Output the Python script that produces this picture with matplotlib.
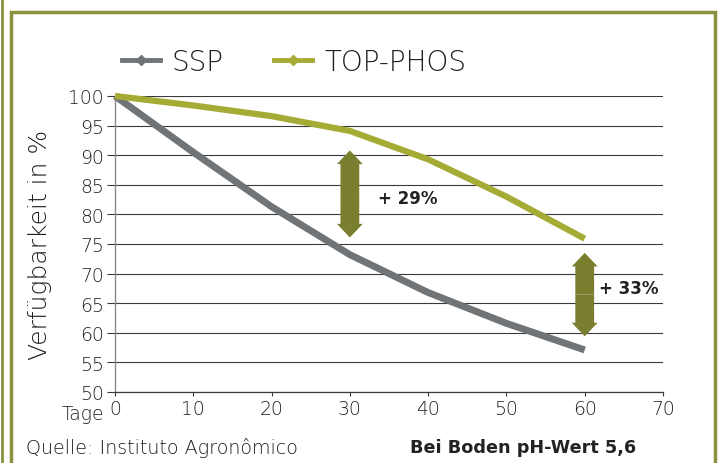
import matplotlib.pyplot as plt
from matplotlib.lines import Line2D
from matplotlib.patches import Rectangle, FancyArrow

days = [0, 10, 20, 30, 40, 50, 60]
ssp = [100, 90.5, 81.3, 73.2, 66.8, 61.6, 57.1]
top_phos = [100, 98.4, 96.6, 94.1, 89.3, 83.0, 75.9]
gain_labels = ['+ 29%', '+ 33%']
gain_days = [30, 60]

GRAY = '#717477'
LIME = '#a5ab35'
OLIVE = '#7a7f2f'
FRAME = '#8a9141'
TXT = '#1e1e1e'

plt.rcParams['font.family'] = ['DejaVu Sans']
plt.rcParams['font.weight'] = 'light'
plt.rcParams['axes.labelweight'] = 'light'

fig = plt.figure(figsize=(7.19, 4.64), dpi=100)
ax = fig.add_axes([115 / 719, 1 - 393 / 464, 548 / 719, 296 / 464])

# frame round the chart
fig.patches.append(Rectangle((11 / 719, -0.1), 704 / 719, 1.1 - 13 / 464,
                             transform=fig.transFigure, fill=False,
                             edgecolor=FRAME, lw=2.5))
fig.add_artist(Line2D([1.5 / 719, 1.5 / 719], [0, 1], color=FRAME, lw=2,
                      transform=fig.transFigure))

ax.plot(days, ssp, color=GRAY, lw=5, solid_capstyle='butt', clip_on=False, zorder=3)
ax.plot(days, top_phos, color=LIME, lw=4.5, solid_capstyle='butt', clip_on=False, zorder=3)

# double arrows between the two series
for d, lab in zip(gain_days, gain_labels):
    i = days.index(d)
    lo = ssp[i] + (2.9 if d == 30 else 2.3)
    hi = top_phos[i] - (3.3 if d == 30 else 2.4)
    mid = (lo + hi) / 2
    for end in (hi, lo):
        ax.add_patch(FancyArrow(d, mid, 0, end - mid, width=2.4, head_width=3.3,
                                head_length=2.3, length_includes_head=True,
                                color=OLIVE, lw=0, zorder=4))
    ax.text(d + (3.6 if d == 30 else 1.8), mid + (-0.6 if d == 30 else 1.2), lab,
            fontsize=12, fontweight='bold', color='#222222', va='center', ha='left')

ax.set_xlim(0, 70)
ax.set_ylim(50, 100)
ax.set_xticks(range(0, 71, 10))
ax.set_yticks(range(50, 101, 5))
ax.yaxis.grid(True, color='#3a3a3a', lw=0.8)
ax.set_axisbelow(True)
for s in ['top', 'right']:
    ax.spines[s].set_visible(False)
ax.spines['left'].set_color('#8a8a8a')
ax.spines['bottom'].set_color('#3a3a3a')
ax.spines['left'].set_linewidth(1)
ax.spines['bottom'].set_linewidth(0.9)
ax.tick_params(axis='y', length=6, width=0.8, color='#3a3a3a', labelsize=13.5,
               labelcolor=TXT, pad=2)
ax.tick_params(axis='x', length=3, width=0.8, color='#3a3a3a', labelsize=13.5,
               labelcolor=TXT, pad=2)
ax.set_ylabel('Verfügbarkeit in %', fontsize=18, color=TXT, labelpad=12)
ax.text(-1.4, -0.072, 'Tage', transform=ax.get_xaxis_transform(), fontsize=13.5,
        color=TXT, ha='right', va='center')

handles = [Line2D([], [], color=GRAY, lw=3.5, marker='D', markersize=5),
           Line2D([], [], color=LIME, lw=3.5, marker='D', markersize=5)]
fig.legend(handles, ['SSP', 'TOP-PHOS'], loc='center left',
           bbox_to_anchor=(97 / 719, 1 - 63 / 464), ncol=2, frameon=False,
           fontsize=20, handlelength=1.35, handletextpad=0.45, columnspacing=1.8,
           labelcolor=TXT)

fig.text(26 / 719, 1 - 448 / 464, 'Quelle: Instituto Agronômico', fontsize=13.8,
         color=TXT, va='center')
fig.text(410 / 719, 1 - 448 / 464, 'Bei Boden pH-Wert 5,6', fontsize=12.7,
         fontweight='bold', color='#222222', va='center')

fig.savefig('out.png', dpi=100)
